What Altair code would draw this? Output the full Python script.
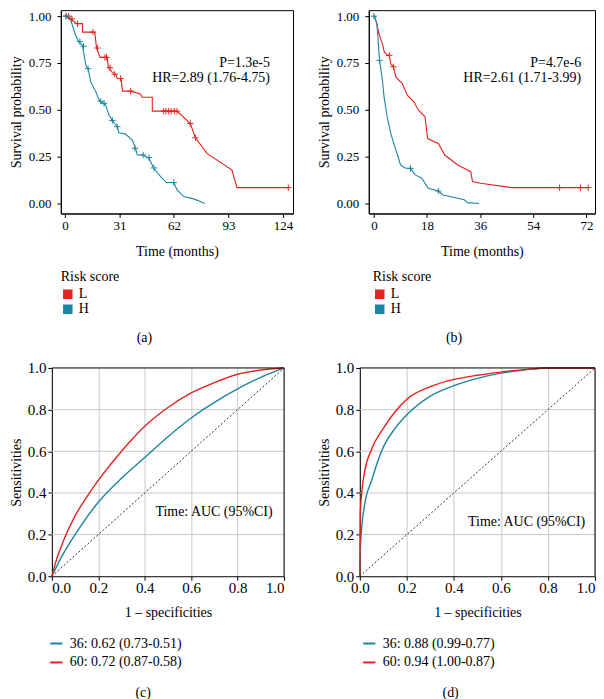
import altair as alt
import pandas as pd

FONT = "Liberation Serif"
RED = "#E5221E"
TEAL = "#1A85A2"

# ---------------- (a) Kaplan-Meier, training set ----------------
A_L_T = [0, 1.0, 3.5, 6.5, 10.0, 10.0, 17.0, 18.0, 20.0, 24.0, 24.8, 27.0, 29.0, 29.8, 32.0, 32.7, 37.5, 43.0, 44.0, 49.7, 49.7, 63.8, 71.3, 74.2, 80.8, 95.0, 97.8, 127.0]
A_L_S = [1.0, 1.0, 0.986, 0.96, 0.96, 0.915, 0.915, 0.83, 0.78, 0.78, 0.725, 0.70, 0.69, 0.667, 0.667, 0.60, 0.60, 0.585, 0.567, 0.567, 0.493, 0.493, 0.427, 0.351, 0.268, 0.179, 0.085, 0.085]
A_H_T = [0, 0.8, 3.4, 6.2, 7.7, 10.0, 11.9, 13.2, 14.7, 17.6, 19.8, 23.2, 25.1, 27.0, 29.8, 30.7, 34.5, 38.3, 40.2, 41.2, 44.4, 47.8, 50.6, 54.4, 57.8, 61.9, 63.8, 67.6, 73.2, 77.0, 79.5]
A_H_S = [1.0, 1.0, 0.977, 0.897, 0.865, 0.844, 0.738, 0.72, 0.649, 0.596, 0.546, 0.525, 0.472, 0.443, 0.41, 0.378, 0.371, 0.339, 0.294, 0.259, 0.259, 0.241, 0.188, 0.144, 0.112, 0.112, 0.073, 0.037, 0.025, 0.011, 0.0]
A_L_CT = [0.6, 2.1, 4.0, 7.2, 16.0, 18.5, 22.8, 23.7, 25.7, 28.3, 31.7, 37.4, 56.2, 57.5, 59.0, 60.5, 62.2, 63.8, 71.3, 74.2, 127.0]
A_L_CS = [1.0, 1.0, 0.986, 0.96, 0.915, 0.83, 0.78, 0.78, 0.725, 0.69, 0.667, 0.60, 0.493, 0.493, 0.493, 0.493, 0.493, 0.493, 0.427, 0.351, 0.085]
A_H_CT = [0.8, 8.5, 10.6, 13.2, 20.4, 22.3, 27.0, 29.8, 39.8, 44.5, 47.8, 50.6, 61.9]
A_H_CS = [1.0, 0.865, 0.84, 0.72, 0.546, 0.535, 0.443, 0.41, 0.295, 0.259, 0.245, 0.19, 0.112]
A_XTICKS = [0, 31, 62, 93, 124]
A_XDOM = [-2.3, 129.7]
A_TXT = ["P=1.3e-5", "HR=2.89 (1.76-4.75)"]
A_TXT_X = [116.6, 116.6]
A_TXT_Y = [0.75, 0.67]

# ---------------- (b) Kaplan-Meier, validation set ----------------
B_L_T = [0, 0.2, 0.8, 1.7, 3.0, 3.5, 4.6, 5.2, 5.7, 6.6, 7.4, 9.6, 11.3, 13.5, 15.1, 17.3, 18.2, 21.8, 24.0, 28.4, 32.8, 33.4, 36.1, 46.6, 72.8]
B_L_S = [1.0, 1.0, 0.968, 0.906, 0.844, 0.809, 0.791, 0.791, 0.746, 0.73, 0.676, 0.64, 0.578, 0.543, 0.498, 0.463, 0.347, 0.321, 0.259, 0.206, 0.17, 0.117, 0.108, 0.085, 0.085]
B_H_T = [0, 0.2, 1.0, 1.3, 1.9, 2.8, 3.5, 4.6, 5.7, 6.9, 8.0, 9.0, 10.7, 12.4, 14.0, 16.2, 18.4, 21.8, 23.4, 27.3, 30.6, 31.7, 35.6]
B_H_S = [1.0, 1.0, 0.959, 0.897, 0.764, 0.667, 0.56, 0.454, 0.374, 0.312, 0.259, 0.206, 0.188, 0.188, 0.153, 0.135, 0.081, 0.067, 0.046, 0.032, 0.02, 0.005, 0.0]
B_L_CT = [5.2, 6.6, 62.9, 70.0, 72.6]
B_L_CS = [0.791, 0.73, 0.085, 0.085, 0.085]
B_H_CT = [0.0, 1.9, 12.4, 21.8]
B_H_CS = [1.0, 0.764, 0.188, 0.067]
B_XTICKS = [0, 18, 36, 54, 72]
B_XDOM = [-1.75, 74.9]
B_TXT = ["P=4.7e-6", "HR=2.61 (1.71-3.99)"]
B_TXT_X = [70.2, 70.2]
B_TXT_Y = [0.75, 0.67]

# ---------------- (c) time-dependent ROC, training set ----------------
C_36_X = [0, 0.05, 0.1, 0.2, 0.3, 0.4, 0.5, 0.6, 0.7, 0.8, 0.9, 1.0]
C_36_Y = [0, 0.11, 0.2, 0.355, 0.47, 0.57, 0.67, 0.76, 0.835, 0.9, 0.955, 1.0]
C_60_X = [0, 0.02, 0.05, 0.1, 0.15, 0.2, 0.3, 0.4, 0.5, 0.6, 0.7, 0.8, 0.9, 1.0]
C_60_Y = [0, 0.08, 0.17, 0.29, 0.38, 0.46, 0.6, 0.72, 0.81, 0.88, 0.93, 0.97, 0.99, 1.0]
C_LABELS = ["36: 0.62 (0.73-0.51)", "60: 0.72 (0.87-0.58)"]
C_TXT_X = 0.446
C_TXT_Y = 0.307

# ---------------- (d) time-dependent ROC, validation set ----------------
D_36_X = [0, 0.003, 0.02, 0.05, 0.1, 0.15, 0.2, 0.3, 0.4, 0.5, 0.6, 0.7, 0.8, 1.0]
D_36_Y = [0, 0.15, 0.34, 0.46, 0.62, 0.71, 0.775, 0.865, 0.915, 0.95, 0.975, 0.99, 1.0, 1.0]
D_60_X = [0, 0.002, 0.01, 0.02, 0.05, 0.1, 0.15, 0.2, 0.3, 0.4, 0.5, 0.6, 0.7, 0.8, 1.0]
D_60_Y = [0, 0.3, 0.42, 0.5, 0.61, 0.71, 0.79, 0.85, 0.91, 0.945, 0.965, 0.98, 0.992, 1.0, 1.0]
D_LABELS = ["36: 0.88 (0.99-0.77)", "60: 0.94 (1.00-0.87)"]
D_TXT_X = 0.46
D_TXT_Y = 0.258

ROC_TXT = "Time: AUC (95%CI)"
ROC_TICKS = [0, 0.2, 0.4, 0.6, 0.8, 1.0]
ROC_GRID = [0.2, 0.4, 0.6, 0.8]
SHIFT = 9  # ROC plot areas start this many px left of the KM plot areas


def series_df(named):
    rows = []
    for name, xs, ys in named:
        for i, (x, y) in enumerate(zip(xs, ys)):
            rows.append({"group": name, "x": x, "y": y, "order": i})
    return pd.DataFrame(rows)


def km_panel(lt, ls, ht, hs, lct, lcs, hct, hcs, xdom, xticks, txt, tx, ty, label, legx, width, dx):
    lines = series_df([("L", lt, ls), ("H", ht, hs)])
    cens = series_df([("L", lct, lcs), ("H", hct, hcs)])
    ann = pd.DataFrame({"x": tx, "y": ty, "text": txt})
    xs = alt.Scale(domain=xdom, nice=False, zero=False)
    ys = alt.Scale(domain=[-0.053, 1.032], nice=False, zero=False)
    cs = alt.Scale(domain=["L", "H"], range=[RED, TEAL])
    xax = alt.Axis(values=xticks, format="d", title="Time (months)", grid=False, tickSize=4,
                   labelFontSize=13, titleFontSize=14, labelPadding=2, titlePadding=12)
    yax = alt.Axis(values=[0, 0.25, 0.5, 0.75, 1.0], format=".2f", title="Survival probability",
                   grid=False, tickSize=4, labelFontSize=13, titleFontSize=14, labelPadding=6,
                   titlePadding=5)
    X = alt.X("x:Q", scale=xs, axis=xax)
    Y = alt.Y("y:Q", scale=ys, axis=yax)
    leg = alt.Chart(lines).transform_filter("false").mark_square(size=64, opacity=1).encode(
        x=X, y=Y,
        color=alt.Color("group:N", scale=cs, legend=alt.Legend(
            title="Risk score", orient="none", legendX=legx, legendY=261, symbolSize=64,
            labelFontSize=14, titleFontSize=14, titleFontWeight="normal", rowPadding=1,
            titlePadding=3, labelOffset=4, padding=0, labelFont=FONT, titleFont=FONT)))
    ln = alt.Chart(lines).mark_line(strokeWidth=1.1).encode(
        x=X, y=Y, color=alt.Color("group:N", scale=cs, legend=None), order="order:Q")
    cp = alt.Chart(cens).mark_point(shape="M-1,0L1,0M0,-1L0,1", size=40, filled=False,
                                    strokeWidth=1, opacity=1).encode(
        x=X, y=Y, color=alt.Color("group:N", scale=cs, legend=None))
    tt = alt.Chart(ann).mark_text(align="right", baseline="middle", fontSize=14, font=FONT,
                                  color="black").encode(x=X, y=Y, text="text:N")
    return alt.layer(leg, ln, cp, tt).properties(
        width=width, height=204,
        title=alt.TitleParams(label, orient="bottom", anchor="middle", frame="bounds", offset=15,
                              dx=dx, fontSize=14, font=FONT, fontWeight="normal"))


def roc_panel(x36, y36, x60, y60, labels, txx, txy, label, vwidth, legx, dx, flush_last):
    curves = series_df([(labels[0], x36, y36), (labels[1], x60, y60)])
    diag = pd.DataFrame({"x": [0, 1], "y": [0, 1]})
    ann = pd.DataFrame({"x": [txx], "y": [txy], "text": [ROC_TXT]})
    grid = pd.DataFrame({"y": ROC_GRID})
    one = pd.DataFrame({"k": [0]})
    xs = alt.Scale(domain=[0, 1], range=[-SHIFT, vwidth], nice=False, zero=False)
    ys = alt.Scale(domain=[0, 1], nice=False, zero=False)
    cs = alt.Scale(domain=labels, range=[TEAL, RED])
    xkw = {}
    if flush_last:
        xkw["labelAlign"] = {"condition": {"test": "datum.value >= 1", "value": "right"},
                             "value": "center"}
    xax = alt.Axis(values=ROC_TICKS, format=".1f", title="1 \u2013 specificities", grid=True,
                   gridColor="#C8C8C8", tickSize=4, labelFontSize=15, titleFontSize=14,
                   labelPadding=0, titlePadding=10, **xkw)
    yax = alt.Axis(values=ROC_TICKS, format=".1f", title="Sensitivities", grid=False,
                   tickSize=4, labelFontSize=15, titleFontSize=14,
                   labelPadding=2, titlePadding=4, offset=SHIFT)
    X = alt.X("x:Q", scale=xs, axis=xax)
    Y = alt.Y("y:Q", scale=ys, axis=yax)
    gl = alt.Chart(grid).mark_rule(color="#C8C8C8", strokeWidth=1).encode(
        y=Y, x=alt.value(-SHIFT), x2=alt.value(vwidth))
    dl = alt.Chart(diag).mark_line(color="black", strokeWidth=0.8, strokeDash=[2, 2]).encode(x=X, y=Y)
    cl = alt.Chart(curves).mark_line(strokeWidth=1.4, interpolate="monotone").encode(
        x=X, y=Y, order="order:Q",
        color=alt.Color("group:N", scale=cs, legend=alt.Legend(
            title=None, orient="none", legendX=legx, legendY=269, symbolType="stroke",
            symbolSize=150, symbolStrokeWidth=2, labelFontSize=14, rowPadding=4,
            labelOffset=6, padding=0, labelFont=FONT)))
    tt = alt.Chart(ann).mark_text(align="left", baseline="middle", fontSize=14, font=FONT,
                                  color="black").encode(x=X, y=Y, text="text:N")
    top = alt.Chart(one).mark_rule(color="black", strokeWidth=1).encode(
        x=alt.value(-SHIFT), x2=alt.value(vwidth), y=alt.value(0))
    right = alt.Chart(one).mark_rule(color="black", strokeWidth=1).encode(
        x=alt.value(vwidth), y=alt.value(0), y2=alt.value(209))
    return alt.layer(gl, dl, cl, tt, top, right).properties(
        width=vwidth, height=209, view=alt.ViewBackground(stroke="transparent"),
        title=alt.TitleParams(label, orient="bottom", anchor="middle", frame="bounds", offset=16,
                              dx=dx, fontSize=14, font=FONT, fontWeight="normal"))


pa = km_panel(A_L_T, A_L_S, A_H_T, A_H_S, A_L_CT, A_L_CS, A_H_CT, A_H_CS,
              A_XDOM, A_XTICKS, A_TXT, A_TXT_X, A_TXT_Y, "(a)", 0, 233, -7)
pb = km_panel(B_L_T, B_L_S, B_H_T, B_H_S, B_L_CT, B_L_CS, B_H_CT, B_H_CS,
              B_XDOM, B_XTICKS, B_TXT, B_TXT_X, B_TXT_Y, "(b)", 4, 227, -2)
pc = roc_panel(C_36_X, C_36_Y, C_60_X, C_60_Y, C_LABELS, C_TXT_X, C_TXT_Y, "(c)", 224, -12, -8, False)
pd_ = roc_panel(D_36_X, D_36_Y, D_60_X, D_60_Y, D_LABELS, D_TXT_X, D_TXT_Y, "(d)", 227, -7, -10, True)

chart = alt.concat(
    pa, pb, pc, pd_, columns=2, align="each",
    spacing=alt.RowColnumber(row=14, column=22),
    padding={"left": 0, "top": 0, "right": -9, "bottom": 0},
).resolve_scale(color="independent", x="independent", y="independent").resolve_legend(
    color="independent"
).configure(font=FONT).configure_view(stroke="black", strokeWidth=1).configure_axis(
    domainColor="black", tickColor="black", labelColor="black", titleColor="black",
    titleFontWeight="normal", labelFont=FONT, titleFont=FONT, domain=True
).configure_legend(labelColor="black", titleColor="black")

chart.save("out.html", embed_options={"renderer": "svg", "actions": False})
